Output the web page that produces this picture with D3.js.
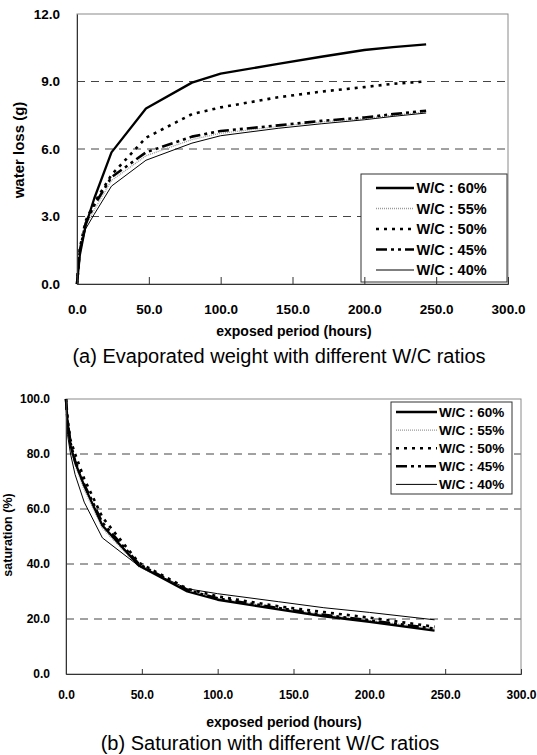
<!DOCTYPE html>
<html>
<head>
<meta charset="utf-8">
<script src="https://cdn.jsdelivr.net/npm/d3@7/dist/d3.min.js"></script>
<style>
  html, body { margin: 0; padding: 0; background: #fff; }
  svg { display: block; font-family: "Liberation Sans", Arial, sans-serif; }
</style>
</head>
<body>
<svg id="chart" width="537" height="755"></svg>
<script>
// ---------- data ----------
const seriesNames = ["W/C : 60%", "W/C : 55%", "W/C : 50%", "W/C : 45%", "W/C : 40%"];

// (a) water loss (g)
const hoursA = [0, 2, 6, 12, 24, 48, 80, 100, 140, 170, 200, 220, 243];
const lossWC60 = [0, 1.3, 2.6, 3.8, 5.85, 7.8, 8.95, 9.35, 9.78, 10.1, 10.4, 10.53, 10.65];
const lossWC55 = [0, 1.45, 2.6, 3.3, 4.6, 5.7, 6.42, 6.7, 7.0, 7.2, 7.35, 7.5, 7.65];
const lossWC50 = [0, 1.6, 2.8, 3.6, 4.85, 6.5, 7.55, 7.85, 8.3, 8.55, 8.75, 8.9, 9.0];
const lossWC45 = [0, 1.5, 2.7, 3.5, 4.75, 5.85, 6.55, 6.8, 7.05, 7.25, 7.4, 7.55, 7.7];
const lossWC40 = [0, 1.4, 2.45, 3.1, 4.35, 5.5, 6.26, 6.59, 6.92, 7.12, 7.3, 7.45, 7.6];
const ticksA_x = [0, 50, 100, 150, 200, 250, 300];
const ticksA_y = [0, 3, 6, 9, 12];

// (b) saturation (%)
const hoursB = [0, 1, 3, 6, 12, 24, 48, 80, 100, 140, 170, 200, 243];
const satWC60 = [100, 92, 83, 77, 68.5, 54, 39.5, 30, 27, 23.5, 21, 19, 15.8];
const satWC55 = [100, 91, 83, 76, 67, 53, 39, 30.5, 27.5, 24, 21.5, 19.5, 16.5];
const satWC50 = [100, 93, 85, 80, 71, 57, 40.5, 31, 28.2, 24.6, 22.5, 20.5, 17.2];
const satWC45 = [100, 92, 84, 77.5, 69, 55, 40, 30.5, 27.5, 24, 21.5, 19.5, 16.5];
const satWC40 = [100, 87, 80, 72.5, 62.5, 49.5, 39.3, 31, 29.2, 26.3, 24.1, 22.4, 19.7];
const ticksB_x = [0, 50, 100, 150, 200, 250, 300];
const ticksB_y = [0, 20, 40, 60, 80, 100];

// ---------- styles ----------
const styles = [
  { stroke: "#000", width: 2.3, dash: null },
  { stroke: "#9a9a9a", width: 1.3, dash: "1,1" },
  { stroke: "#000", width: 2.6, dash: "3,5" },
  { stroke: "#000", width: 2.6, dash: "11,4,3,4,3,4" },
  { stroke: "#000", width: 1, dash: null }
];

const svg = d3.select("#chart");

function drawChart(cfg) {
  const g = svg.append("g");
  const x = d3.scaleLinear().domain([0, 300]).range([cfg.left, cfg.right]);
  const y = d3.scaleLinear().domain(cfg.yDomain).range([cfg.bottom, cfg.top]);

  // gridlines
  g.selectAll(".grid").data(cfg.yTicks.filter(t => t > cfg.yDomain[0] && t < cfg.yDomain[1]))
    .enter().append("line")
    .attr("x1", cfg.left).attr("x2", cfg.right)
    .attr("y1", d => y(d)).attr("y2", d => y(d))
    .attr("stroke", "#444").attr("stroke-width", 1).attr("stroke-dasharray", "8,6");

  // frame
  g.append("rect").attr("x", cfg.left).attr("y", cfg.top)
    .attr("width", cfg.right - cfg.left).attr("height", cfg.bottom - cfg.top)
    .attr("fill", "none").attr("stroke", "#8a8a8a").attr("stroke-width", 1);

  // series
  const line = d3.line().x(d => x(d[0])).y(d => y(d[1]));
  const order = [1, 4, 3, 2, 0];
  order.forEach(i => {
    const pts = cfg.hours.map((h, k) => [h, cfg.series[i][k]]);
    const p = g.append("path").datum(pts).attr("d", line)
      .attr("fill", "none").attr("stroke", styles[i].stroke)
      .attr("stroke-width", styles[i].width).attr("stroke-linejoin", "round");
    if (styles[i].dash) p.attr("stroke-dasharray", styles[i].dash);
  });

  // legend
  const L = cfg.legend;
  g.append("rect").attr("x", L.x).attr("y", L.y).attr("width", L.w).attr("height", L.h)
    .attr("fill", "#fff").attr("stroke", "#333").attr("stroke-width", 1);
  seriesNames.forEach((name, i) => {
    const cy = L.y + L.firstRow + i * L.rowGap;
    const s = g.append("line").attr("x1", L.lx1).attr("x2", L.lx2).attr("y1", cy).attr("y2", cy)
      .attr("stroke", styles[i].stroke).attr("stroke-width", styles[i].width);
    if (styles[i].dash) s.attr("stroke-dasharray", styles[i].dash);
    g.append("text").attr("x", L.tx).attr("y", cy).attr("dy", "0.36em")
      .attr("font-size", L.fs).attr("font-weight", "bold").attr("fill", "#000").text(name);
  });

  // axes
  const xAxis = d3.axisBottom(x).tickValues(cfg.xTicks).tickSize(-cfg.tickLen).tickFormat(d3.format(".1f"));
  const gx = g.append("g").attr("transform", `translate(0,${cfg.bottom})`).call(xAxis);
  gx.select(".domain").attr("stroke", "#333");
  gx.selectAll(".tick line").attr("stroke", "#333");
  gx.selectAll(".tick text").attr("font-size", cfg.tickFs).attr("font-weight", "bold")
    .attr("font-family", "Liberation Sans, Arial, sans-serif").attr("fill", "#000")
    .attr("y", cfg.xLabelOffset).attr("dy", "0");

  const yAxis = d3.axisLeft(y).tickValues(cfg.yTicks).tickSize(0).tickPadding(cfg.yPad).tickFormat(d3.format(".1f"));
  const gy = g.append("g").attr("transform", `translate(${cfg.left},0)`).call(yAxis);
  gy.select(".domain").attr("stroke", "#333");
  gy.selectAll(".tick text").attr("font-size", cfg.tickFs).attr("font-weight", "bold")
    .attr("font-family", "Liberation Sans, Arial, sans-serif").attr("fill", "#000");

  // axis titles
  g.append("text").attr("x", cfg.xTitle[0]).attr("y", cfg.xTitle[1]).attr("text-anchor", "middle")
    .attr("font-size", cfg.titleFs).attr("font-weight", "bold").text("exposed period (hours)");
  g.append("text").attr("transform", `translate(${cfg.yTitle[0]},${cfg.yTitle[1]}) rotate(-90)`)
    .attr("text-anchor", "middle").attr("font-size", cfg.yTitleFs).attr("font-weight", "bold")
    .text(cfg.yTitleText);
  // caption
  g.append("text").attr("x", cfg.caption[0]).attr("y", cfg.caption[1]).attr("text-anchor", "middle")
    .attr("font-size", 20).attr("font-weight", "normal").text(cfg.captionText);
}

drawChart({
  left: 77, right: 508, top: 14, bottom: 284,
  yDomain: [0, 12], yTicks: ticksA_y, xTicks: ticksA_x,
  hours: hoursA, series: [lossWC60, lossWC55, lossWC50, lossWC45, lossWC40],
  tickLen: 7, tickFs: 13.5, xLabelOffset: 30, yPad: 17, titleFs: 14, yTitleFs: 15,
  xTitle: [294, 336], yTitle: [24, 150], yTitleText: "water loss (g)",
  caption: [279, 363], captionText: "(a) Evaporated weight with different W/C ratios",
  legend: { x: 361, y: 174, w: 146, h: 108, firstRow: 14, rowGap: 20.5, lx1: 376, lx2: 414, tx: 416.5, fs: 14.5 }
});

drawChart({
  left: 66, right: 521, top: 399, bottom: 674,
  yDomain: [0, 100], yTicks: ticksB_y, xTicks: ticksB_x,
  hours: hoursB, series: [satWC60, satWC55, satWC50, satWC45, satWC40],
  tickLen: 5, tickFs: 12, xLabelOffset: 25, yPad: 16, titleFs: 14, yTitleFs: 12.5,
  xTitle: [284, 727], yTitle: [12, 535], yTitleText: "saturation (%)",
  caption: [270, 750], captionText: "(b) Saturation with different W/C ratios",
  legend: { x: 391, y: 402, w: 121, h: 92, firstRow: 10, rowGap: 18.1, lx1: 396, lx2: 437, tx: 439, fs: 13.5 }
});
</script>
</body>
</html>
